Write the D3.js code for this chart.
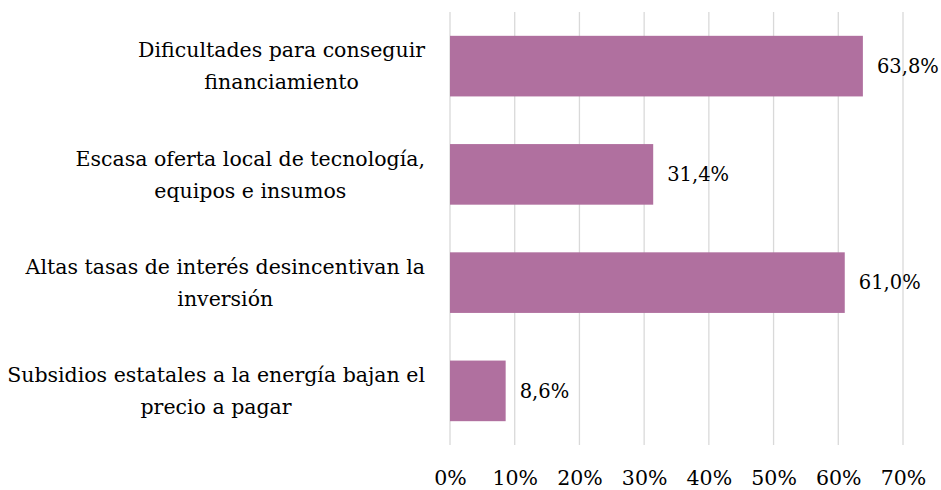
<!DOCTYPE html>
<html>
<head>
<meta charset="utf-8">
<script src="https://cdn.jsdelivr.net/npm/d3@7"></script>
<style>
  body { margin: 0; background: #fff; }
  svg { display: block; font-family: "DejaVu Serif", serif; }
</style>
</head>
<body>
<div id="chart"></div>
<script>
// categories, each one split in the lines shown on the chart
var categories = [
  ["Dificultades para conseguir", "financiamiento"],
  ["Escasa oferta local de tecnología,", "equipos e insumos"],
  ["Altas tasas de interés desincentivan la", "inversión"],
  ["Subsidios estatales a la energía bajan el", "precio a pagar"]
];
var values = [63.8, 31.4, 61.0, 8.6];
var tickValues = [0, 10, 20, 30, 40, 50, 60, 70];

var width = 941, height = 490;
var margin = {top: 12, right: 38, bottom: 45, left: 450};
var barColor = "#b0709f";
var fontSize = 20.5;
var valueFontSize = 19.5;

var svg = d3.select("#chart").append("svg")
    .attr("width", width)
    .attr("height", height);

var x = d3.scaleLinear()
    .domain([0, 70])
    .range([margin.left, width - margin.right]);

var y = d3.scaleBand()
    .domain(d3.range(categories.length))
    .range([margin.top, height - margin.bottom])
    .paddingInner(0.44)
    .paddingOuter(0.22);

// vertical grid lines
svg.append("g")
  .selectAll("line")
  .data(tickValues)
  .enter()
  .append("line")
    .attr("x1", function(d){ return x(d); })
    .attr("x2", function(d){ return x(d); })
    .attr("y1", margin.top)
    .attr("y2", height - margin.bottom)
    .attr("stroke", "#d9d9d9")
    .attr("stroke-width", 1.3);

// x axis labels (no axis line)
var xAxis = d3.axisBottom(x)
    .tickValues(tickValues)
    .tickSize(0)
    .tickPadding(0)
    .tickFormat(function(d){ return d + "%"; });

var gx = svg.append("g")
    .attr("transform", "translate(0," + (height - 5) + ")")
    .call(xAxis);
gx.select(".domain").remove();
gx.selectAll("text")
    .attr("dy", 0)
    .attr("font-family", "DejaVu Serif, serif")
    .attr("font-size", fontSize)
    .attr("fill", "#000");

// bars
svg.append("g")
  .selectAll("rect")
  .data(values)
  .enter()
  .append("rect")
    .attr("x", x(0))
    .attr("y", function(d, i){ return y(i); })
    .attr("width", function(d){ return x(d) - x(0); })
    .attr("height", y.bandwidth())
    .attr("fill", barColor);

// value labels
svg.append("g")
  .selectAll("text")
  .data(values)
  .enter()
  .append("text")
    .attr("x", function(d){ return x(d) + 14; })
    .attr("y", function(d, i){ return y(i) + y.bandwidth() / 2; })
    .attr("dy", "0.35em")
    .attr("font-size", valueFontSize)
    .text(function(d){ return d.toFixed(1).replace(".", ",") + "%"; });

// category labels: block right-aligned, lines centred inside the block
var labelRight = 425;
var lineHeight = 32;
var labels = svg.append("g")
  .selectAll("g")
  .data(categories)
  .enter()
  .append("g");

labels.each(function(lines, i){
  var g = d3.select(this);
  var cy = y(i) + y.bandwidth() / 2;
  var texts = g.selectAll("text")
    .data(lines)
    .enter()
    .append("text")
      .attr("font-size", fontSize)
      .attr("text-anchor", "middle")
      .attr("y", function(d, j){ return cy + (j - (lines.length - 1) / 2) * lineHeight; })
      .attr("dy", "0.35em")
      .text(function(d){ return d; });
  var maxW = 0;
  texts.each(function(){ maxW = Math.max(maxW, this.getComputedTextLength()); });
  texts.attr("x", labelRight - maxW / 2);
});
</script>
</body>
</html>
